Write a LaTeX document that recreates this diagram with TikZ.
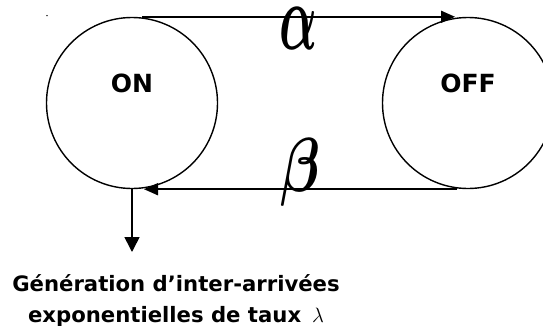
\documentclass[tikz,border=0pt]{standalone}
\usepackage{fontspec}
\setmainfont{DejaVu Sans}
\usepackage{amsmath}
\usepackage{graphicx}
\usetikzlibrary{arrows.meta,positioning}

\begin{document}
\begin{tikzpicture}[x=1pt,y=1pt,>=Latex,
state circle/.style={draw,circle,line width=1.4pt,minimum size=171pt,inner sep=0pt},
state name/.style={inner sep=0pt,font=\fontsize{25}{30}\selectfont\bfseries},
flow/.style={-{Triangle[length=14pt,width=12pt]},line width=1.6pt},
rate label/.style={inner sep=0pt},
out text/.style={align=center,inner sep=0pt,font=\fontsize{21.2}{31}\selectfont\bfseries}]
\useasboundingbox (0,0) rectangle (543,325);
\node[state circle] (on) at (132,222) {};
\node[state circle] (off) at (468,222) {};
\node[state name] (onname) at ([yshift=19.4pt]on.center) {ON};
\node[state name] (offname) at ([yshift=19.4pt]off.center) {OFF};
\draw[flow] ([xshift=10pt]on.north) -- node[rate label,midway,yshift=-12pt] (alpha) {\resizebox{38pt}{42pt}{$\boldsymbol{\alpha}$}} ([xshift=-13pt]off.north);
\draw[flow] ([xshift=-11pt]off.south) -- node[rate label,midway,yshift=17pt] (beta) {\resizebox*{40pt}{68pt}{$\boldsymbol{\beta}$}} ([xshift=12pt]on.south);
\coordinate (genend) at ([yshift=-62.8pt]on.south);
\draw[flow,-{Triangle[length=15pt,width=15pt]}] (on.south) -- (genend);
\node[out text,anchor=north] (gen) at (176,51) {Génération d’inter-arrivées\\exponentielles de taux~\,$\lambda$};
\fill (47,309.4) circle (0.8pt);
\end{tikzpicture}
\end{document}
